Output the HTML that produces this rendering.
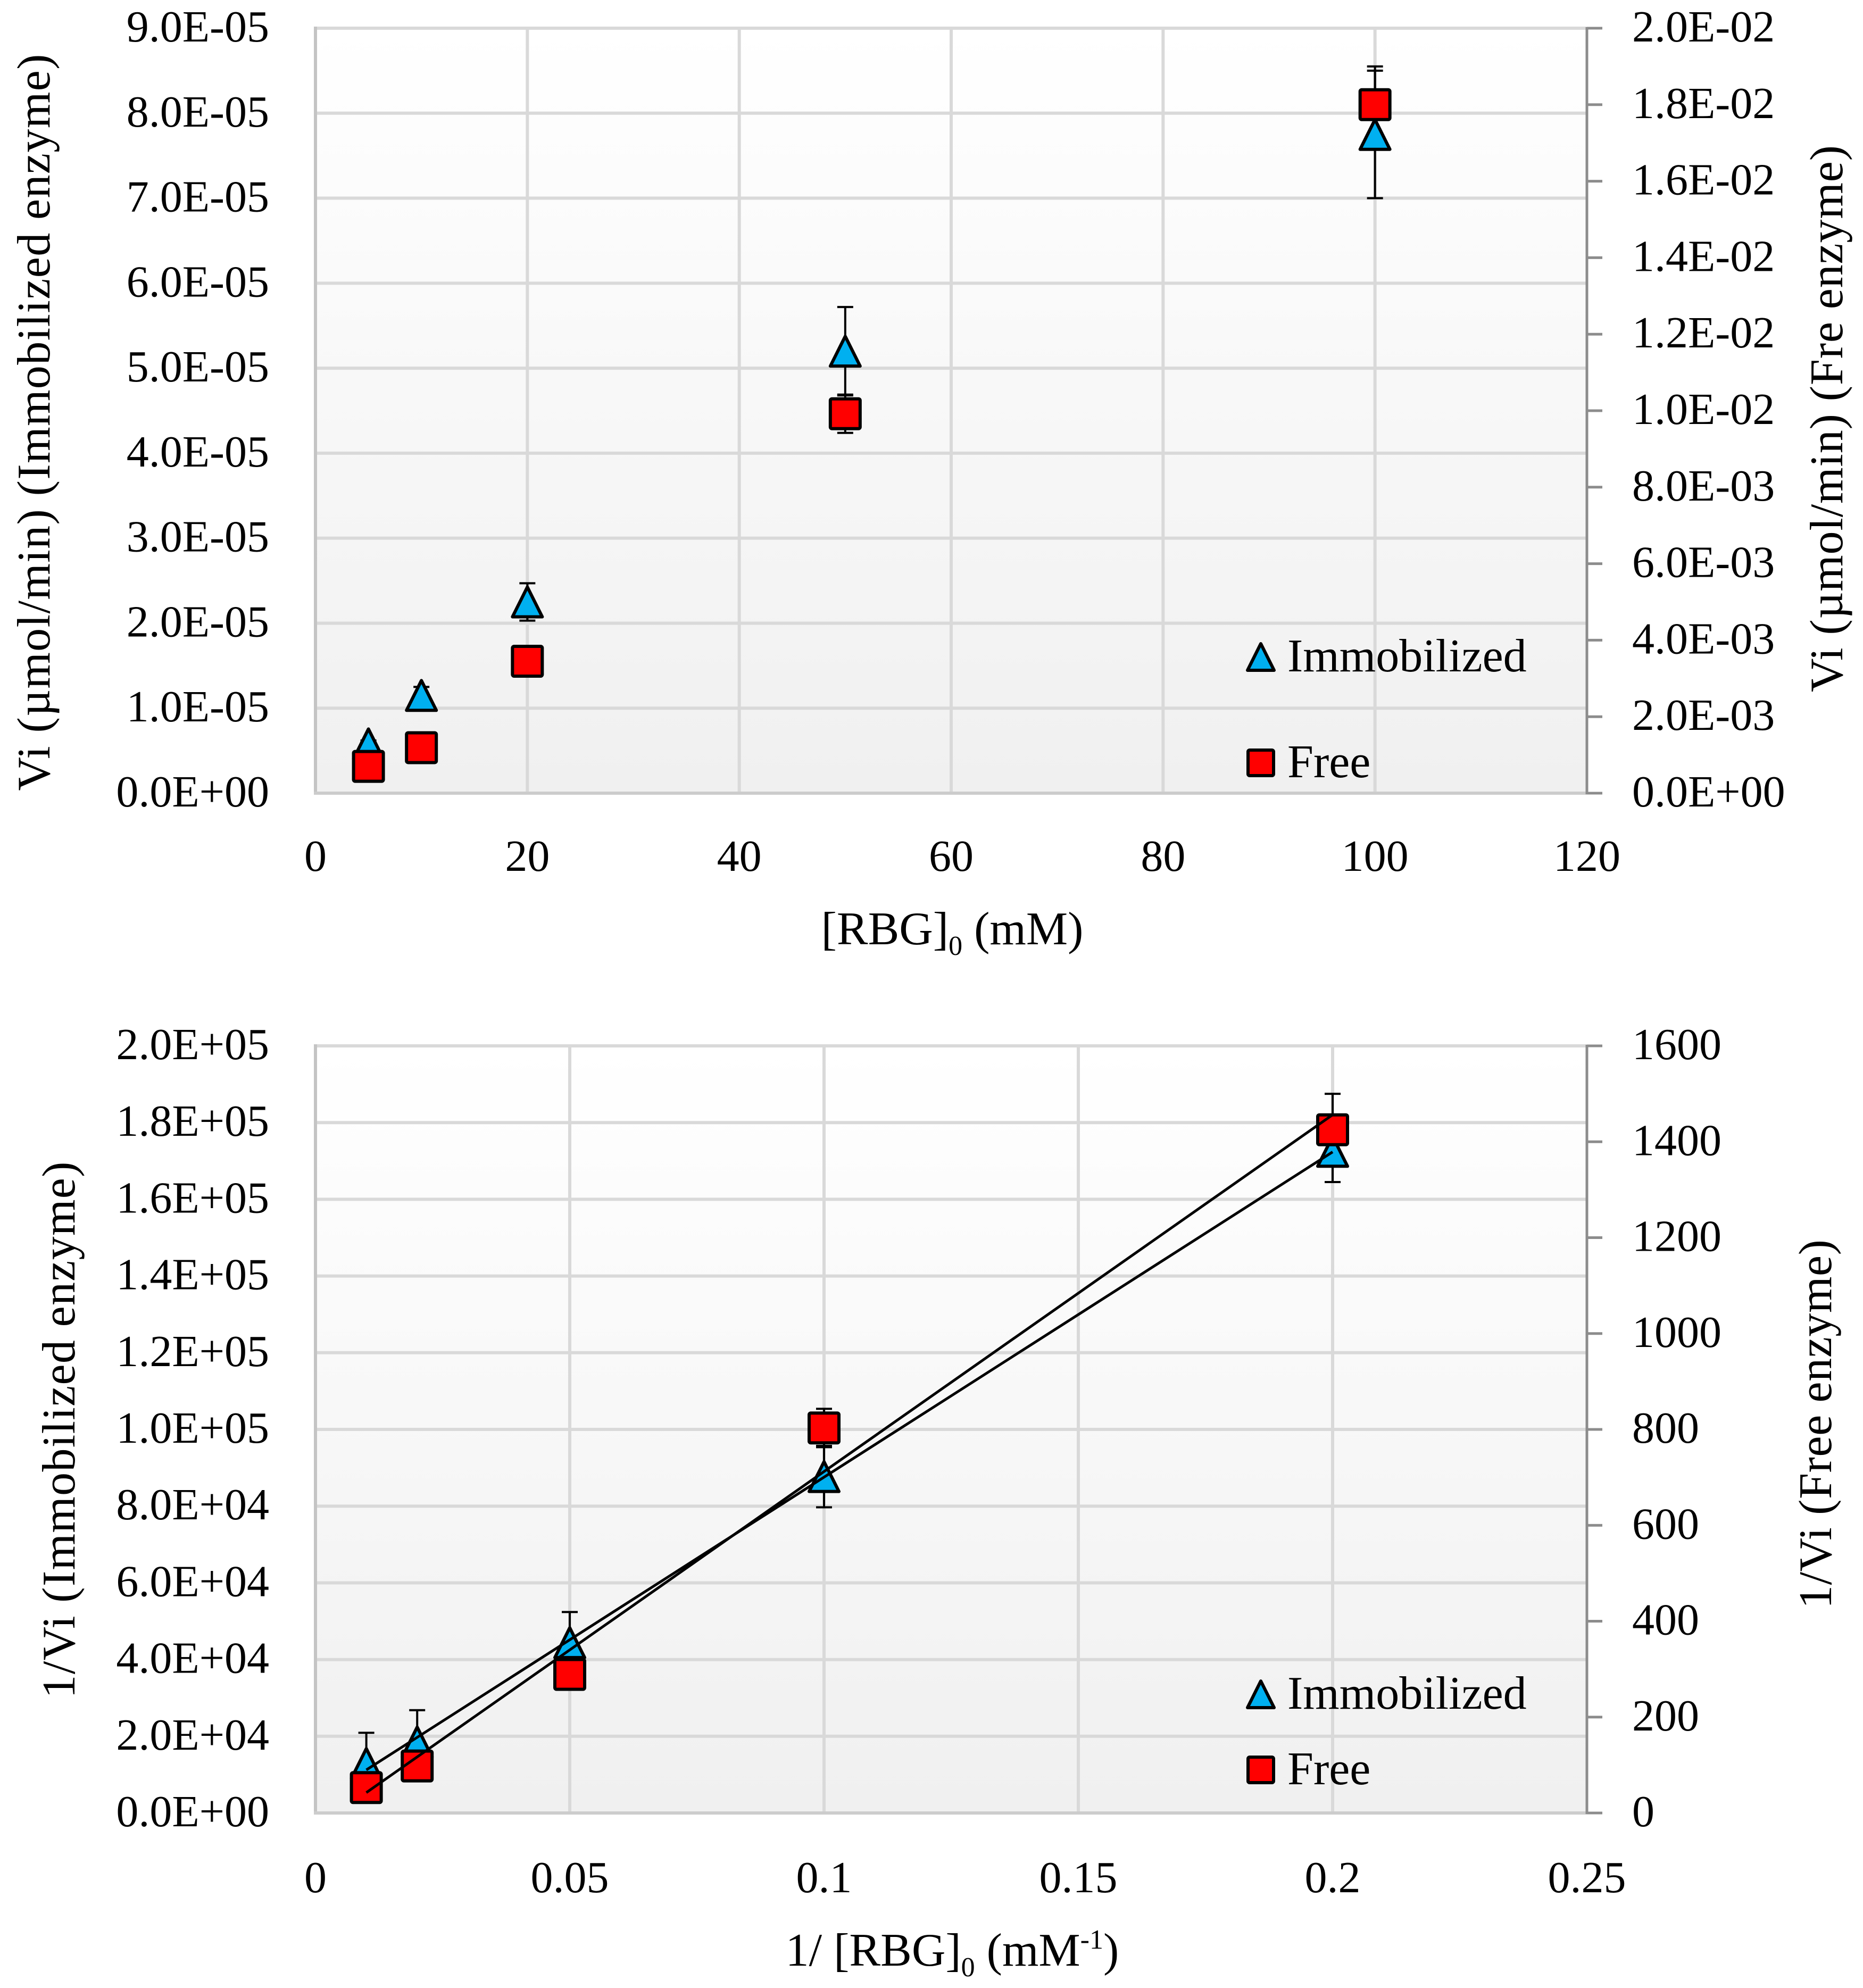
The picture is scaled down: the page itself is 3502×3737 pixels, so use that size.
<!DOCTYPE html>
<html><head><meta charset="utf-8"><style>
html,body{margin:0;padding:0;background:#fff}
svg{display:block}
text{font-family:"Liberation Serif",serif;fill:#000}
</style></head><body>
<svg id="chart" width="3502" height="3737" viewBox="0 0 3502 3737" xmlns="http://www.w3.org/2000/svg">
<defs>
<linearGradient id="bg" x1="0" y1="0" x2="0" y2="1">
<stop offset="0" stop-color="#ffffff"/><stop offset="1" stop-color="#f0f0f0"/>
</linearGradient>
</defs>
</svg>
<script>
// ---- Top chart data ----
const topX = [5, 10, 20, 50, 100];
const topImm = [5.8e-6, 1.15e-5, 2.25e-5, 5.2e-5, 7.75e-5];
const topImmErr = [0.4e-6, 0.1e-5, 0.22e-5, 0.52e-5, 0.75e-5];
const topFree = [7.0e-4, 1.19e-3, 3.45e-3, 9.92e-3, 1.80e-2];
const topFreeErr = [0, 0, 0, 0.5e-3, 1.0e-3];
const topXTicks = [0, 20, 40, 60, 80, 100, 120];
const topLTicks = ["0.0E+00","1.0E-05","2.0E-05","3.0E-05","4.0E-05","5.0E-05","6.0E-05","7.0E-05","8.0E-05","9.0E-05"];
const topRTicks = ["0.0E+00","2.0E-03","4.0E-03","6.0E-03","8.0E-03","1.0E-02","1.2E-02","1.4E-02","1.6E-02","1.8E-02","2.0E-02"];
// ---- Bottom chart data ----
const botX = [0.01, 0.02, 0.05, 0.1, 0.2];
const botImm = [1.29e4, 1.85e4, 4.44e4, 8.77e4, 1.725e5];
const botImmErr = [0.8e4, 0.83e4, 0.8e4, 0.8e4, 0.8e4];
const botFree = [53, 98, 289, 803, 1425];
const botFreeErr = [0, 0, 0, 40, 75];
const botXTicks = ["0","0.05","0.1","0.15","0.2","0.25"];
const botLTicks = ["0.0E+00","2.0E+04","4.0E+04","6.0E+04","8.0E+04","1.0E+05","1.2E+05","1.4E+05","1.6E+05","1.8E+05","2.0E+05"];
const botRTicks = ["0","200","400","600","800","1000","1200","1400","1600"];

const NS = "http://www.w3.org/2000/svg";
const svg = document.getElementById('chart');
function mk(tag, attrs, parent, txt) {
  const e = document.createElementNS(NS, tag);
  for (const k in attrs) e.setAttribute(k, attrs[k]);
  if (txt !== undefined) e.textContent = txt;
  (parent || svg).appendChild(e);
  return e;
}
const L = 593, R = 2983;

function drawChart(cfg) {
  const g = mk('g', {});
  
  
  const T = cfg.top, B = cfg.bottom;
  const xs = v => L + (v - cfg.xmin) / (cfg.xmax - cfg.xmin) * (R - L);
  const yl = v => B - v / cfg.lmax * (B - T);
  const yr = v => B - v / cfg.rmax * (B - T);
  const bgr = mk('rect', {x: L, y: T, width: R - L, height: B - T, fill: 'url(#bg)'}, g);
  
  
  // horizontal grid + left labels
  const nL = cfg.lTicks.length - 1;
  cfg.lTicks.forEach((t, i) => {
    const y = B - i / nL * (B - T);
    if (i > 0) {
      const gl = mk('line', {x1: L, x2: R, y1: y, y2: y, stroke: '#d9d9d9', 'stroke-width': 6}, g);
      
      
    }
    const tx = mk('text', {x: 506, y: y + 25, 'font-size': 84, 'text-anchor': 'end'}, g, t);
    
    
  });
  // vertical grid + x labels
  const nX = cfg.xTicks.length - 1;
  cfg.xTicks.forEach((t, i) => {
    const x = L + i / nX * (R - L);
    if (i > 0 && i < nX) {
      const gl = mk('line', {x1: x, x2: x, y1: T, y2: B, stroke: '#d9d9d9', 'stroke-width': 6}, g);
      
      
    }
    const tx = mk('text', {x: x, y: cfg.xLabelY, 'font-size': 84, 'text-anchor': 'middle'}, g, String(t));
    
    
  });
  // axes
  const ta = mk('line', {x1: L, x2: R, y1: T, y2: T, stroke: '#d9d9d9', 'stroke-width': 6}, g);
  
  
  const la = mk('line', {x1: L, x2: L, y1: T - 3, y2: B, stroke: '#c4c4c4', 'stroke-width': 6}, g);
  
  
  const ba = mk('line', {x1: L - 3, x2: R, y1: B, y2: B, stroke: '#cccccc', 'stroke-width': 6}, g);
  
  
  const ra = mk('line', {x1: R, x2: R, y1: T - 2, y2: B + 2, stroke: '#8c8c8c', 'stroke-width': 5}, g);
  
  
  const nR = cfg.rTicks.length - 1;
  cfg.rTicks.forEach((t, i) => {
    const y = B - i / nR * (B - T);
    const tk = mk('line', {x1: R, x2: R + 29, y1: y, y2: y, stroke: '#8c8c8c', 'stroke-width': 5}, g);
    
    
    const tx = mk('text', {x: 3068, y: y + 25, 'font-size': 84}, g, t);
    
    
  });
  // error bars
  function ebar(x, yc, yerr, scale, nm) {
    if (!yerr) return;
    const px = xs(x), y1 = scale(yc + yerr), y2 = scale(yc - yerr);
    const eg = mk('g', {stroke: '#000', 'stroke-width': 4}, g);
    
    
    mk('line', {x1: px, x2: px, y1: y1, y2: y2}, eg);
    mk('line', {x1: px - 15, x2: px + 15, y1: y1, y2: y1}, eg);
    mk('line', {x1: px - 15, x2: px + 15, y1: y2, y2: y2}, eg);
  }
  cfg.imm.forEach((v, i) => ebar(cfg.x[i], v, cfg.immErr[i], yl, 'immobilized-error-bar'));
  cfg.free.forEach((v, i) => ebar(cfg.x[i], v, cfg.freeErr[i], yr, 'free-error-bar'));
  // markers
  function tri(cx, cy, s, nm) {
    const h = s;
    const p = mk('polygon', {points: `${cx},${cy - h / 2} ${cx + s / 2},${cy + h / 2} ${cx - s / 2},${cy + h / 2}`, fill: '#00b0f0', stroke: '#000', 'stroke-width': 6, 'stroke-linejoin': 'round'}, g);
    
    
  }
  function sq(cx, cy, s, nm) {
    const r = mk('rect', {x: cx - s / 2, y: cy - s / 2, width: s, height: s, rx: 3, fill: '#ff0000', stroke: '#000', 'stroke-width': 6}, g);
    
    
  }
  cfg.imm.forEach((v, i) => tri(xs(cfg.x[i]), yl(v), 56, 'immobilized-point'));
  cfg.free.forEach((v, i) => sq(xs(cfg.x[i]), yr(v), 56, 'free-point'));
  // trendlines
  if (cfg.trend) {
    function fit(xa, ya) {
      const n = xa.length; let sx = 0, sy = 0, sxx = 0, sxy = 0;
      for (let i = 0; i < n; i++) { sx += xa[i]; sy += ya[i]; sxx += xa[i] * xa[i]; sxy += xa[i] * ya[i]; }
      const m = (n * sxy - sx * sy) / (n * sxx - sx * sx);
      return [m, (sy - m * sx) / n];
    }
    const x0 = cfg.x[0], x1 = cfg.x[cfg.x.length - 1];
    const [m1, b1] = fit(cfg.x, cfg.imm);
    const t1 = mk('line', {x1: xs(x0), y1: yl(m1 * x0 + b1), x2: xs(x1), y2: yl(m1 * x1 + b1), stroke: '#000', 'stroke-width': 5}, g);
    
    
    const [m2, b2] = fit(cfg.x, cfg.free);
    const t2 = mk('line', {x1: xs(x0), y1: yr(m2 * x0 + b2), x2: xs(x1), y2: yr(m2 * x1 + b2), stroke: '#000', 'stroke-width': 5}, g);
    
    
  }
  // legend
  const lg = mk('g', {}, g);
  
  
  tri(2370, cfg.legY1 - 27, 50, 'legend-immobilized-marker');
  const l1 = mk('text', {x: 2420, y: cfg.legY1, 'font-size': 88}, lg, 'Immobilized');
  
  
  sq(2370, cfg.legY2 - 27, 48, 'legend-free-marker');
  const l2 = mk('text', {x: 2420, y: cfg.legY2, 'font-size': 88}, lg, 'Free');
  
  
  // titles
  const xt = mk('text', {x: 1790, y: cfg.xTitleY, 'font-size': 88, 'text-anchor': 'middle'}, g);
  
  
  xt.innerHTML = cfg.xTitle;
  const lt = mk('text', {x: 0, y: 0, 'font-size': 88, 'text-anchor': 'middle', textLength: cfg.lTitleLen, lengthAdjust: 'spacing', transform: `translate(${cfg.lTitleX},${cfg.lTitleY}) rotate(-90)`}, g, cfg.lTitle);
  
  
  const rt = mk('text', {x: 0, y: 0, 'font-size': 88, 'text-anchor': 'middle', textLength: cfg.rTitleLen, lengthAdjust: 'spacing', transform: `translate(${cfg.rTitleX},${cfg.rTitleY}) rotate(-90)`}, g, cfg.rTitle);
  
  
}

drawChart({
  name: 'michaelis-menten-chart', top: 53, bottom: 1491, xmin: 0, xmax: 120,
  lmax: 9e-5, rmax: 2e-2, x: topX, imm: topImm, immErr: topImmErr, free: topFree, freeErr: topFreeErr,
  xTicks: topXTicks, lTicks: topLTicks, rTicks: topRTicks, xLabelY: 1637, trend: false,
  legY1: 1262, legY2: 1461,
  xTitle: '[RBG]<tspan font-size="52" dy="20">0</tspan><tspan dy="-20"> (mM)</tspan>', xTitleY: 1775,
  lTitle: 'Vi (µmol/min) (Immobilized enzyme)', lTitleX: 93, lTitleY: 794, lTitleLen: 1385,
  rTitle: 'Vi (µmol/min) (Fre enzyme)', rTitleX: 3463, rTitleY: 787, rTitleLen: 1028
});
drawChart({
  name: 'lineweaver-burk-chart', top: 1966, bottom: 3408, xmin: 0, xmax: 0.25,
  lmax: 2e5, rmax: 1600, x: botX, imm: botImm, immErr: botImmErr, free: botFree, freeErr: botFreeErr,
  xTicks: botXTicks, lTicks: botLTicks, rTicks: botRTicks, xLabelY: 3557, trend: true,
  legY1: 3212, legY2: 3354,
  xTitle: '1/ [RBG]<tspan font-size="52" dy="20">0</tspan><tspan dy="-20"> (mM</tspan><tspan font-size="52" dy="-32">-1</tspan><tspan dy="32">)</tspan>', xTitleY: 3695,
  lTitle: '1/Vi (Immobilized enzyme)', lTitleX: 140, lTitleY: 2688, lTitleLen: 1009,
  rTitle: '1/Vi (Free enzyme)', rTitleX: 3442, rTitleY: 2677, rTitleLen: 694
});
</script>
</body></html>
